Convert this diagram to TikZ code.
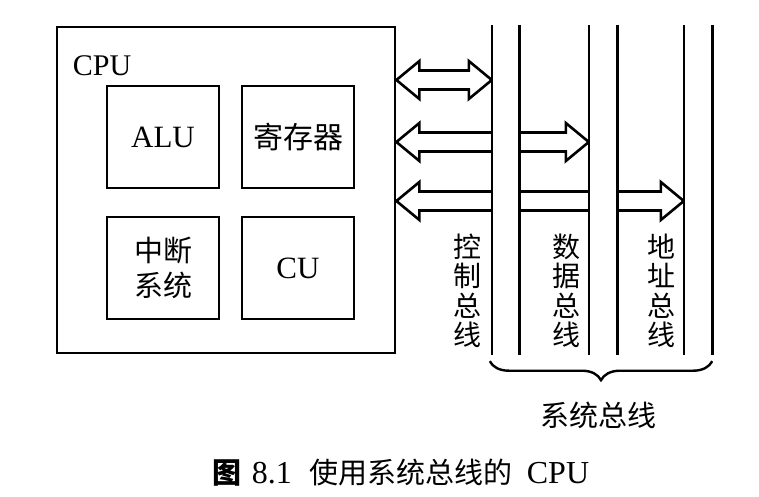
\documentclass[tikz,border=0pt]{standalone}
\usepackage{fontspec}
\setmainfont{Liberation Serif}
\newfontfamily\cjk{Noto Sans CJK SC}
\usetikzlibrary{calc, decorations.pathreplacing}

\tikzset{
  unit/.style={draw, line width=2.8pt, minimum width=112pt, minimum height=102pt, inner sep=0pt, align=center},
  busline/.style={line width=2.6pt},
  fatarrow/.style={draw, line width=2.6pt, line join=miter},
  buslabel/.style={align=center, font=\cjk\fontsize{28}{29.5}\selectfont},
}

% double headed fat arrow between two tips on the same row
\newcommand{\dblarrow}[2]{%
  \draw[fatarrow] (#1) -- ++(23,-19) -- ++(0,9.5) -- ($(#2)+(-23,-9.5)$) -- ++(0,-9.5) -- (#2)
    -- ++(-23,19) -- ++(0,-9.5) -- ($(#1)+(23,9.5)$) -- ++(0,9.5) -- cycle;}

\begin{document}
\begin{tikzpicture}[x=1pt, y=-1pt]
\useasboundingbox (0,0) rectangle (759,497);

% CPU and its parts
\node[draw, line width=2.8pt, minimum width=338pt, minimum height=326pt] (cpu) at (226,190) {};
\node[font=\fontsize{30}{32}\selectfont] (cpulabel) at (102,66) {CPU};

\node[unit, font=\fontsize{31}{33}\selectfont] (alu) at (163,137) {ALU};
\node[unit, font=\cjk\fontsize{30}{32}\selectfont] (reg) at (298,137) {寄存器};
\node[unit, font=\cjk\fontsize{29}{35}\selectfont] (irq) at (163,268) {中断\\系统};
\node[unit, font=\fontsize{31}{33}\selectfont] (cu) at (298,268) {CU};

% bus columns (drawn later, over the arrows)
\node[minimum width=27pt, minimum height=330pt, inner sep=0pt] (ctrl) at (505.5,190) {};
\node[minimum width=28pt, minimum height=330pt, inner sep=0pt] (data) at (603,190) {};
\node[minimum width=28pt, minimum height=330pt, inner sep=0pt] (addr) at (698,190) {};

\coordinate (row1) at (0,80);
\coordinate (row2) at (0,142);
\coordinate (row3) at (0,201);

\dblarrow{cpu.east |- row1}{ctrl.west |- row1}
\dblarrow{cpu.east |- row2}{data.west |- row2}
\dblarrow{cpu.east |- row3}{addr.west |- row3}

\foreach \b in {ctrl,data,addr} {
  \fill[white] (\b.north west) rectangle (\b.south east);
  \draw[busline] (\b.north west) -- (\b.south west) (\b.north east) -- (\b.south east);
}

\node[buslabel] (ctrllabel) at (467,291) {控\\制\\总\\线};
\node[buslabel] (datalabel) at (566,291) {数\\据\\总\\线};
\node[buslabel] (addrlabel) at (661,291) {地\\址\\总\\线};

% system bus brace
\draw[decorate, decoration={brace, mirror, amplitude=19pt}, line width=2.4pt]
  ([xshift=-2pt, yshift=-6pt]ctrl.south west) -- ([yshift=-6pt]addr.south east);
\node[font=\cjk\fontsize{29}{31}\selectfont] (sysbus) at (598,415) {系统总线};

% caption
\node[font=\fontsize{32}{34}\selectfont] (caption) at (401,473)
  {{\cjk\bfseries\fontsize{29}{31}\selectfont 图}\hspace{10pt}8.1\hspace{18pt}{\cjk\fontsize{29}{31}\selectfont 使用系统总线的}\hspace{14pt}CPU};

\end{tikzpicture}
\end{document}
